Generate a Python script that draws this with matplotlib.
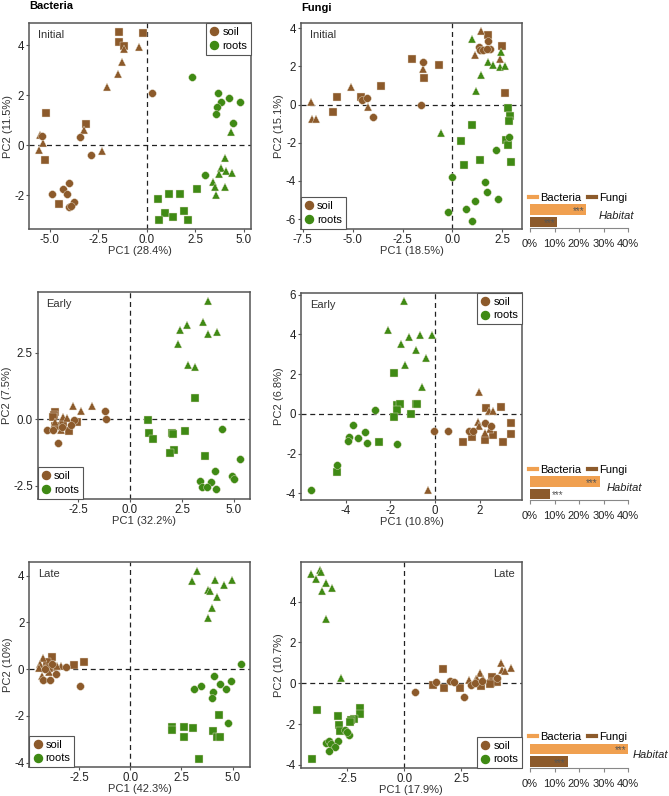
import matplotlib
matplotlib.use('Agg')
import matplotlib.pyplot as plt
from matplotlib.lines import Line2D
from matplotlib.ticker import FormatStrFormatter

plt.rcParams['font.family'] = ['Liberation Sans', 'DejaVu Sans']

# group codes: 0 = circle, 1 = square, 2 = triangle
bac_init_soil = [(-1.43, 4.52, 1), (-0.22, 4.49, 1), (-1.43, 4.13, 1), (-1.15, 3.96, 1), (-1.15, 3.85, 2),
                 (-0.38, 3.93, 2), (-1.27, 3.31, 2), (-1.46, 2.83, 2), (-2.06, 2.31, 2), (0.26, 2.07, 0),
                 (-5.17, 1.27, 1), (-3.13, 0.84, 1), (-3.26, 0.6, 2), (-3.45, 0.33, 0), (-5.5, 0.4, 2),
                 (-5.4, 0.36, 0), (-5.36, 0.07, 2), (-5.55, -0.2, 2), (-2.9, -0.41, 0), (-2.29, -0.23, 2),
                 (-5.22, -0.6, 1), (-3.99, -1.53, 0), (-4.3, -1.76, 0), (-4.91, -1.97, 0), (-4.11, -1.97, 0),
                 (-4.54, -2.35, 1), (-3.76, -2.28, 0), (-3.99, -2.47, 0), (-3.93, -2.42, 0)]
bac_init_root = [(2.32, 2.73, 0), (3.68, 2.09, 0), (4.23, 1.89, 0), (3.8, 1.73, 0), (4.79, 1.73, 0),
                 (3.64, 1.53, 0), (3.57, 1.24, 0), (4.45, 0.87, 0), (4.35, 0.51, 2), (4.02, -0.53, 2),
                 (3.83, -0.91, 2), (4.09, -1.03, 2), (4.4, -1.13, 2), (3.71, -1.17, 2), (3.02, -1.2, 0),
                 (3.4, -1.47, 2), (3.49, -1.69, 2), (4.02, -1.69, 2), (3.56, -2.0, 2), (2.59, -1.77, 1),
                 (1.7, -1.97, 1), (1.15, -1.96, 1), (0.57, -2.16, 1), (1.92, -2.63, 1), (0.95, -2.71, 1),
                 (1.37, -2.89, 1), (0.62, -3.01, 1), (2.13, -3.01, 1)]

fun_init_soil = [(-7.08, 0.12, 2), (-7.05, -0.75, 2), (-6.85, -0.75, 2), (-6.0, -0.37, 1), (-5.81, 0.4, 1),
                 (-5.1, 0.95, 2), (-4.56, 0.39, 1), (-4.53, 0.25, 0), (-4.29, 0.35, 0), (-4.24, -0.1, 2),
                 (-3.96, -0.63, 0), (-3.58, 1.0, 1), (-1.55, 0.0, 0), (-2.02, 2.37, 1), (-1.45, 2.21, 0),
                 (-1.49, 1.88, 2), (-1.4, 1.42, 1), (-0.67, 2.1, 1), (1.42, 3.86, 2), (1.77, 3.65, 1),
                 (1.77, 3.32, 0), (1.34, 3.02, 0), (1.39, 2.84, 0), (1.55, 2.84, 0), (1.89, 2.93, 0),
                 (1.72, 2.9, 0), (1.12, 2.61, 2), (2.51, 3.05, 1), (2.39, 2.4, 2), (2.66, 0.6, 1)]
fun_init_root = [(0.99, 3.44, 2), (2.44, 2.75, 2), (1.77, 2.21, 2), (2.05, 2.09, 2), (2.41, 1.96, 2),
                 (2.66, 2.05, 2), (1.45, 1.56, 2), (1.19, 0.7, 2), (-0.57, -1.51, 2), (2.78, -0.19, 1),
                 (2.91, -0.61, 1), (2.86, -0.84, 1), (0.97, -1.05, 1), (0.42, -1.91, 1), (2.86, -1.68, 0),
                 (2.71, -1.86, 1), (2.81, -2.11, 1), (2.17, -2.37, 0), (1.39, -2.91, 1), (0.6, -3.16, 1),
                 (2.96, -3.0, 1), (-0.02, -3.79, 0), (1.62, -4.05, 0), (1.72, -4.58, 0), (2.31, -4.96, 0),
                 (1.12, -5.07, 0), (0.67, -5.49, 0), (-0.23, -5.61, 0), (0.97, -6.1, 0)]

bac_early_soil = [(-2.72, 0.5, 2), (-1.83, 0.5, 2), (-2.36, 0.31, 2), (-1.19, 0.32, 0), (-1.15, 0.0, 0),
                  (-3.62, 0.29, 1), (-3.67, 0.16, 1), (-3.69, 0.1, 1), (-3.24, 0.1, 2), (-3.04, 0.04, 2),
                  (-2.56, -0.09, 1), (-2.69, -0.03, 0), (-3.21, -0.15, 1), (-2.85, -0.21, 0), (-3.61, -0.25, 1),
                  (-3.32, -0.4, 2), (-3.97, -0.4, 0), (-3.72, -0.4, 0), (-2.93, -0.46, 1), (-3.48, -0.88, 0),
                  (-3.27, -0.28, 0), (-3.61, -0.09, 2)]
bac_early_root = [(3.73, 4.45, 2), (3.49, 3.66, 2), (2.76, 3.56, 2), (2.42, 3.37, 2), (3.75, 3.2, 2),
                  (4.2, 3.29, 2), (2.32, 2.82, 2), (2.8, 2.06, 2), (3.13, 1.97, 2), (3.14, 0.81, 1),
                  (0.85, -0.03, 1), (0.93, -0.53, 1), (1.12, -0.75, 1), (2.04, -0.53, 1), (2.07, -0.56, 1),
                  (2.66, -0.44, 1), (2.13, -1.15, 1), (1.92, -1.28, 1), (3.59, -1.37, 1), (4.41, -0.36, 0),
                  (5.29, -1.49, 0), (4.09, -1.94, 0), (4.92, -2.13, 0), (5.02, -2.23, 0), (3.37, -2.31, 0),
                  (3.88, -2.35, 0), (3.45, -2.55, 0), (3.72, -2.55, 0), (4.13, -2.64, 0)]

fun_early_soil = [(-0.33, -3.82, 2), (-0.04, -0.88, 0), (0.6, -0.88, 0), (1.97, 1.11, 2), (2.28, 0.32, 1),
                  (2.42, 0.13, 2), (2.61, 0.13, 2), (2.97, 0.35, 1), (1.52, -0.88, 0), (1.71, -0.88, 0),
                  (1.91, -0.42, 2), (1.97, -0.59, 2), (2.25, -0.47, 0), (2.5, -0.62, 0), (2.46, -0.76, 2),
                  (2.22, -0.96, 2), (2.6, -1.04, 1), (1.66, -1.16, 1), (1.25, -1.41, 1), (2.25, -1.3, 1),
                  (3.04, -1.41, 1), (3.41, -0.45, 1), (3.39, -0.99, 1)]
fun_early_root = [(-1.37, 5.69, 2), (-2.1, 4.23, 2), (-1.18, 3.87, 2), (-0.66, 3.96, 2), (-0.12, 3.96, 2),
                  (-1.51, 3.5, 2), (-0.87, 3.22, 2), (-0.42, 2.79, 2), (-1.33, 2.44, 2), (-0.58, 1.36, 2),
                  (-1.85, 2.07, 1), (-1.7, 0.44, 1), (-1.55, 0.52, 1), (-1.69, 0.19, 1), (-0.85, 0.52, 1),
                  (-0.79, 0.52, 1), (-1.09, 0.0, 1), (-1.85, -0.15, 1), (-2.68, 0.19, 0), (-2.51, -1.43, 1),
                  (-1.69, -1.52, 0), (-3.67, -0.57, 0), (-3.83, -1.16, 0), (-3.88, -1.38, 0), (-3.43, -1.21, 0),
                  (-3.13, -0.93, 0), (-3.04, -1.46, 0), (-4.41, -2.56, 0), (-4.37, -2.9, 1), (-5.55, -3.82, 0)]

bac_late_soil = [(-4.28, 0.48, 2), (-3.84, 0.53, 1), (-4.44, 0.24, 2), (-4.08, 0.31, 1), (-3.84, 0.24, 0),
                 (-3.76, 0.1, 1), (-4.31, -0.28, 2), (-4.25, -0.48, 0), (-3.92, -0.46, 0), (-3.63, -0.21, 0),
                 (-3.99, -0.11, 2), (-3.38, 0.13, 2), (-3.15, 0.09, 0), (-2.75, 0.19, 1), (-2.27, 0.31, 1),
                 (-2.45, -0.74, 0), (-4.49, 0.03, 2), (-4.0, 0.07, 1), (-4.17, -0.01, 0), (-3.59, 0.13, 2)]
bac_late_root = [(3.27, 4.22, 2), (3.02, 3.76, 2), (4.13, 3.83, 2), (4.95, 3.8, 2), (4.56, 3.6, 2),
                 (3.79, 3.4, 2), (3.87, 3.36, 2), (4.22, 3.09, 2), (3.97, 2.62, 2), (3.82, 2.21, 2),
                 (5.39, 0.23, 0), (4.1, -0.28, 0), (3.46, -0.71, 0), (3.12, -0.83, 0), (4.38, -0.63, 0),
                 (4.9, -0.51, 0), (4.67, -0.87, 0), (4.02, -0.98, 0), (3.97, -1.23, 0), (4.75, -2.32, 0),
                 (4.33, -1.98, 1), (2.06, -2.49, 1), (2.03, -2.61, 1), (2.61, -2.46, 1), (3.06, -2.51, 1),
                 (2.63, -2.89, 1), (4.04, -2.66, 1), (4.25, -2.92, 1), (4.36, -2.92, 1), (3.37, -3.86, 1)]

fun_late_soil = [(0.47, -0.44, 0), (1.27, -0.08, 1), (1.39, 0.08, 0), (1.7, 0.69, 1), (1.73, -0.25, 1),
                 (2.0, 0.13, 0), (2.18, 0.05, 0), (2.44, -0.23, 1), (2.63, -0.65, 0), (2.84, 0.16, 2),
                 (2.91, -0.11, 0), (3.14, 0.23, 2), (3.32, 0.48, 2), (3.1, 0.0, 0), (3.39, 0.11, 0),
                 (3.47, 0.23, 2), (3.35, -0.13, 1), (3.79, 0.0, 1), (3.86, 0.32, 1), (3.9, 0.06, 1),
                 (4.05, 0.27, 0), (4.08, 0.08, 1), (3.76, -0.05, 1), (4.24, 0.97, 2), (4.27, 0.65, 2),
                 (4.43, 0.62, 2), (4.69, 0.73, 2), (3.2, 0.19, 2)]
fun_late_root = [(-4.11, 5.34, 2), (-3.7, 5.56, 2), (-3.67, 5.46, 2), (-3.85, 5.13, 2), (-3.61, 4.53, 2),
                 (-3.41, 4.9, 2), (-3.16, 4.66, 2), (-3.41, 3.15, 2), (-2.78, 0.28, 2), (-3.82, -1.31, 1),
                 (-1.93, -1.23, 1), (-1.92, -1.52, 1), (-2.19, -1.75, 1), (-2.34, -1.8, 1), (-2.89, -1.63, 1),
                 (-2.87, -2.04, 1), (-2.82, -2.34, 1), (-2.4, -1.91, 1), (-2.6, -2.29, 0), (-2.41, -2.53, 0),
                 (-2.5, -2.37, 0), (-2.89, -2.83, 0), (-3.45, -2.91, 0), (-3.3, -2.83, 0), (-3.22, -2.99, 0),
                 (-3.03, -3.15, 0), (-3.3, -3.32, 0), (-4.04, -3.69, 1)]

# variance explained (%) on PC1 / PC2
pc1_var = ['28.4', '18.5', '32.2', '10.8', '42.3', '17.9']
pc2_var = ['11.5', '15.1', '7.5', '6.8', '10', '10.7']
stages = ['Initial', 'Initial', 'Early', 'Early', 'Late', 'Late']

# habitat effect (% variance explained), per stage
habitat_bacteria = [23, 28.5, 40]
habitat_fungi = [11, 8, 15.4]

soil_col = '#8c5a2b'
root_col = '#3f8a14'
bac_bar = '#f0a050'
fun_bar = '#8c5a2b'
frame_col = '#555555'
markers = {0: 'o', 1: 's', 2: '^'}
msizes = {0: 5.6, 1: 5.2, 2: 6.0}

W, H = 669, 796
fig = plt.figure(figsize=(W / 100, H / 100), dpi=100)


def rect(x0, y0, x1, y1):
    return [x0 / W, 1 - y1 / H, (x1 - x0) / W, (y1 - y0) / H]


panels = [
    dict(data=(bac_init_soil, bac_init_root), box=(29, 23, 251, 229), xlim=(-6.07, 5.37), ylim=(-3.36, 4.88),
         xt=[-5, -2.5, 0, 2.5, 5], yt=[-2, 0, 2, 4], xf='%.1f', yf='%d', leg='upper right', lab='left'),
    dict(data=(fun_init_soil, fun_init_root), box=(301, 23, 522, 229), xlim=(-7.59, 3.49), ylim=(-6.52, 4.28),
         xt=[-7.5, -5, -2.5, 0, 2.5], yt=[-6, -4, -2, 0, 2, 4], xf='%.1f', yf='%d', leg='lower left', lab='left'),
    dict(data=(bac_early_soil, bac_early_root), box=(37.7, 291.7, 250, 499), xlim=(-4.44, 5.77), ylim=(-3.0, 4.8),
         xt=[-2.5, 0, 2.5, 5], yt=[-2.5, 0, 2.5], xf='%.1f', yf='%.1f', leg='lower left', lab='left'),
    dict(data=(fun_early_soil, fun_early_root), box=(301, 292.7, 522, 500), xlim=(-6.0, 3.89), ylim=(-4.33, 6.1),
         xt=[-4, -2, 0, 2], yt=[-4, -2, 0, 2, 4, 6], xf='%d', yf='%d', leg='upper right', lab='left'),
    dict(data=(bac_late_soil, bac_late_root), box=(29.3, 561.7, 250, 767.3), xlim=(-4.94, 5.85), ylim=(-4.2, 4.6),
         xt=[-2.5, 0, 2.5, 5], yt=[-4, -2, 0, 2, 4], xf='%.1f', yf='%d', leg='lower left', lab='left'),
    dict(data=(fun_late_soil, fun_late_root), box=(300.7, 561.7, 522, 768.3), xlim=(-4.54, 5.16), ylim=(-4.17, 5.96),
         xt=[-2.5, 0, 2.5], yt=[-4, -2, 0, 2, 4], xf='%.1f', yf='%d', leg='lower right', lab='right'),
]

for i, p in enumerate(panels):
    ax = fig.add_axes(rect(*p['box']))
    ax.axhline(0, color='#222222', ls=(0, (4, 3)), lw=0.9, zorder=1)
    ax.axvline(0, color='#222222', ls=(0, (4, 3)), lw=0.9, zorder=1)
    for pts, col in zip(p['data'], (soil_col, root_col)):
        for g in (1, 2, 0):
            sel = [(x, y) for x, y, gg in pts if gg == g]
            if not sel:
                continue
            xs, ys = zip(*sel)
            ax.plot(xs, ys, ls='', marker=markers[g], ms=msizes[g], color=col,
                    mec='#e8e0d0', mew=0.3, zorder=3)
    ax.set_xlim(*p['xlim'])
    ax.set_ylim(*p['ylim'])
    ax.set_xticks(p['xt'])
    ax.set_yticks(p['yt'])
    ax.xaxis.set_major_formatter(FormatStrFormatter(p['xf']))
    ax.yaxis.set_major_formatter(FormatStrFormatter(p['yf']))
    ax.tick_params(length=2.5, width=0.8, color=frame_col, labelsize=8.3, labelcolor='#222222', pad=1)
    for s in ax.spines.values():
        s.set_color(frame_col)
        s.set_linewidth(1.1)
    ax.set_xlabel(f'PC1 ({pc1_var[i]}%)', fontsize=8, color='#333333', labelpad=0)
    ax.set_ylabel(f'PC2 ({pc2_var[i]}%)', fontsize=8, color='#333333', labelpad=1)
    if p['lab'] == 'left':
        ax.text(0.04, 0.965, stages[i], transform=ax.transAxes, ha='left', va='top', fontsize=8, color='#333333')
    else:
        ax.text(0.97, 0.965, stages[i], transform=ax.transAxes, ha='right', va='top', fontsize=8, color='#333333')
    handles = [Line2D([], [], ls='', marker='o', ms=5.8, color=soil_col),
               Line2D([], [], ls='', marker='o', ms=5.8, color=root_col)]
    leg = ax.legend(handles, ['soil', 'roots'], loc=p['leg'], borderaxespad=0, fancybox=False,
                    edgecolor=frame_col, framealpha=1, fontsize=8, handlelength=0.8, handletextpad=0.3,
                    borderpad=0.35, labelspacing=0.35)
    leg.get_frame().set_linewidth(0.8)

# small habitat bar charts
bar_boxes = [(530, 203.5, 628, 228), (530, 475.5, 628, 500), (530, 743, 628, 767.5)]
habitat_x = [28.2, 31.3, 42.0]
for k, bb in enumerate(bar_boxes):
    bx = fig.add_axes(rect(*bb))
    bx.barh([1, 0], [habitat_bacteria[k], habitat_fungi[k]], height=0.85,
            color=[bac_bar, fun_bar], edgecolor='none')
    bx.set_xlim(0, 40)
    bx.set_ylim(-0.5, 1.5)
    bx.set_yticks([])
    for s in ('left', 'right', 'top'):
        bx.spines[s].set_visible(False)
    bx.spines['bottom'].set_color('#888888')
    bx.spines['bottom'].set_linewidth(0.8)
    bx.set_xticks([0, 10, 20, 30, 40])
    bx.set_xticklabels(['0%', '10%', '20%', '30%', '40%'])
    bx.tick_params(axis='x', length=3, width=0.8, color='#888888', labelsize=8, labelcolor='#222222', pad=5)
    bx.patch.set_alpha(0)
    for yy, val in ((1, habitat_bacteria[k]), (0, habitat_fungi[k])):
        if val > 10:
            bx.text(val - 0.8, yy - 0.1, '***', ha='right', va='center', fontsize=7, color='#555555')
        else:
            bx.text(val + 1.0, yy - 0.1, '***', ha='left', va='center', fontsize=7, color='#555555')
    bx.text(habitat_x[k], 0.5, 'Habitat', ha='left', va='center', fontsize=8, style='italic',
            color='#222222', clip_on=False)
    lh = [Line2D([], [], color=bac_bar, lw=3), Line2D([], [], color=fun_bar, lw=3)]
    bx.legend(lh, ['Bacteria', 'Fungi'], loc='lower left', bbox_to_anchor=(-0.03, 0.95), ncol=2,
              frameon=False, fontsize=8, handlelength=0.7, handletextpad=0.3, columnspacing=0.6,
              borderaxespad=0, borderpad=0.2)

fig.text(29 / W, 1 - 1 / H, 'Bacteria', fontsize=8, fontweight='bold', ha='left', va='top')
fig.text(301 / W, 1 - 3 / H, 'Fungi', fontsize=8, fontweight='bold', ha='left', va='top')

fig.savefig('out.png', dpi=100)
